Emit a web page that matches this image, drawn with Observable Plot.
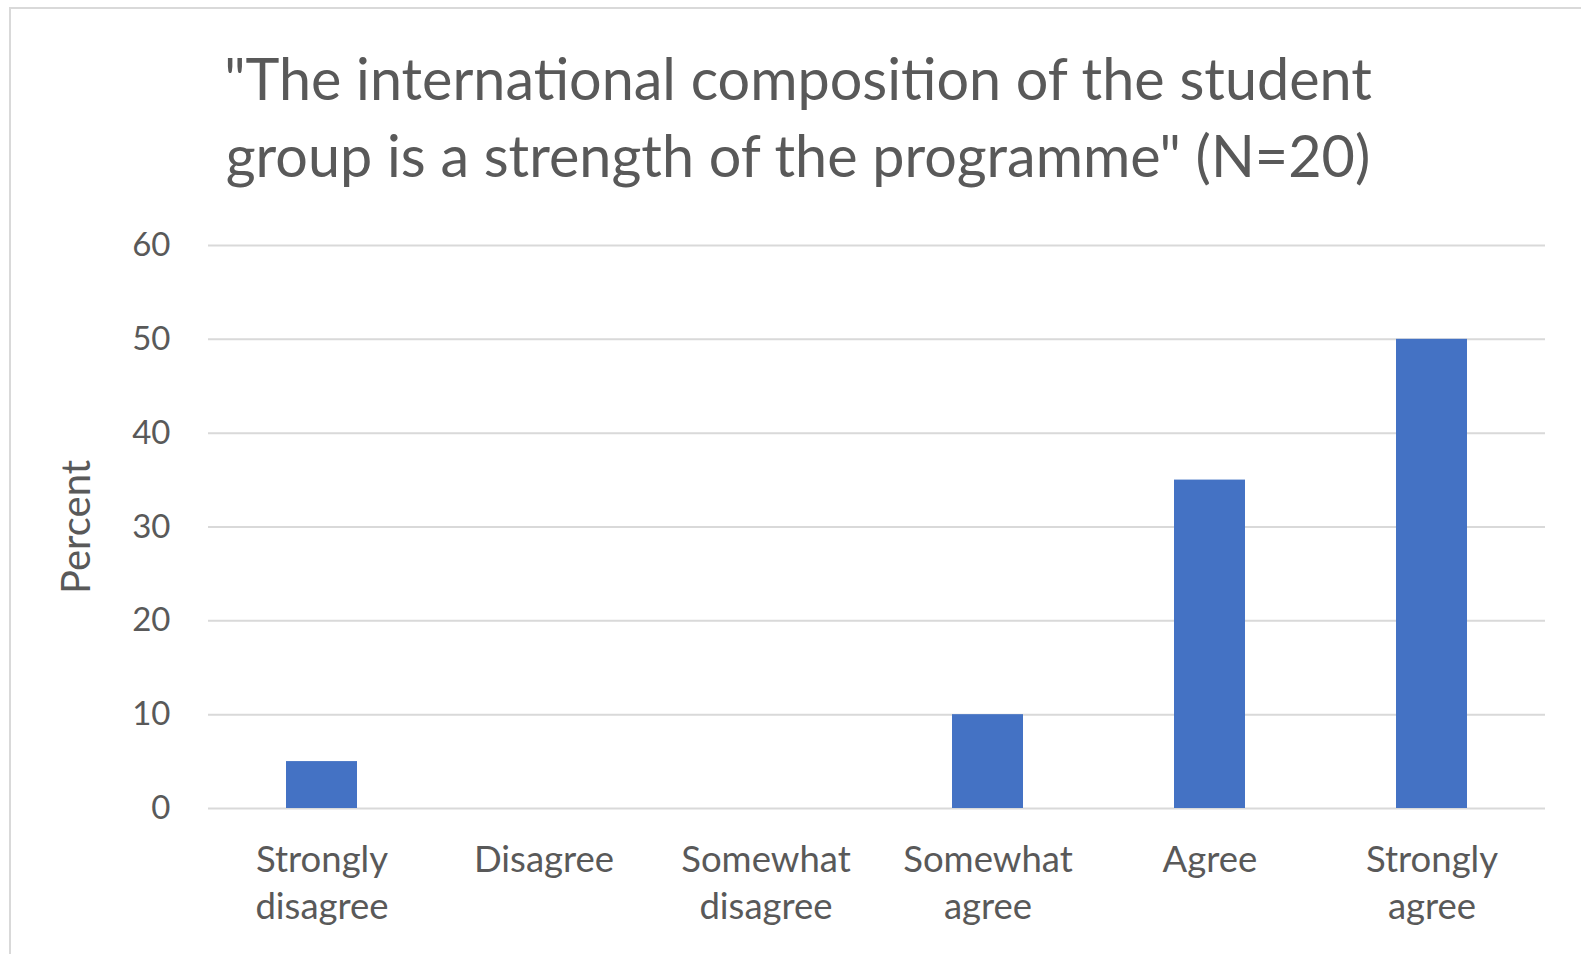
<!DOCTYPE html>
<html>
<head>
<meta charset="utf-8">
<script src="https://cdn.jsdelivr.net/npm/d3@7"></script>
<script src="https://cdn.jsdelivr.net/npm/@observablehq/plot@0.6"></script>
<style>
  html, body { margin: 0; padding: 0; background: #fff; overflow: hidden; }
  #wrap { position: relative; width: 1581px; height: 954px; }
  #frame { position: absolute; left: 9px; top: 7px; width: 1600px; height: 1000px;
           border-left: 2px solid #d9d9d9; border-top: 2px solid #d9d9d9; pointer-events: none; }
  #title { position: absolute; left: 0; top: 39px; width: 1596px; text-align: center;
           font-family: Lato, sans-serif; font-size: 57.5px; line-height: 77px; color: #595959; }
  #chart { position: absolute; left: 0; top: 200px; }
</style>
</head>
<body>
<div id="wrap">
  <div id="frame"></div>
  <div id="title">"The international composition of the student<br>group is a strength of the programme" (N=20)</div>
  <div id="chart"></div>
</div>
<script>
const categories = ["Strongly disagree", "Disagree", "Somewhat disagree", "Somewhat agree", "Agree", "Strongly agree"];
const xLabels = ["Strongly\ndisagree", "Disagree", "Somewhat\ndisagree", "Somewhat\nagree", "Agree", "Strongly\nagree"];
const percents = [5, 0, 0, 10, 35, 50];
const yTicks = [0, 10, 20, 30, 40, 50, 60];
const yLabel = "Percent";

const data = categories.map((c, i) => ({category: c, value: percents[i]}));

const chart = Plot.plot({
  width: 1581,
  height: 754,
  marginLeft: 208,
  marginRight: 36,
  marginTop: 45,
  marginBottom: 146,
  style: {fontFamily: "Lato, sans-serif", color: "#595959", background: "transparent"},
  x: {domain: categories, paddingInner: 0.68, paddingOuter: 0.34},
  y: {domain: [0, 60]},
  marks: [
    Plot.gridY(yTicks, {stroke: "#d9d9d9", strokeOpacity: 1, strokeWidth: 2}),
    Plot.barY(data, {x: "category", y: "value", fill: "#4472C4"}),
    Plot.axisY(yTicks, {tickSize: 0, tickPadding: 38, fontSize: 33, label: null}),
    Plot.axisX({tickSize: 0, tickPadding: 31, fontSize: 36.5, lineHeight: 1.27, label: null,
                tickFormat: (d) => xLabels[categories.indexOf(d)]}),
    Plot.text([yLabel], {frameAnchor: "left", textAnchor: "middle", rotate: -90, dx: -131, fontSize: 40, fill: "#595959"})
  ]
});
document.getElementById("chart").appendChild(chart);
</script>
</body>
</html>
